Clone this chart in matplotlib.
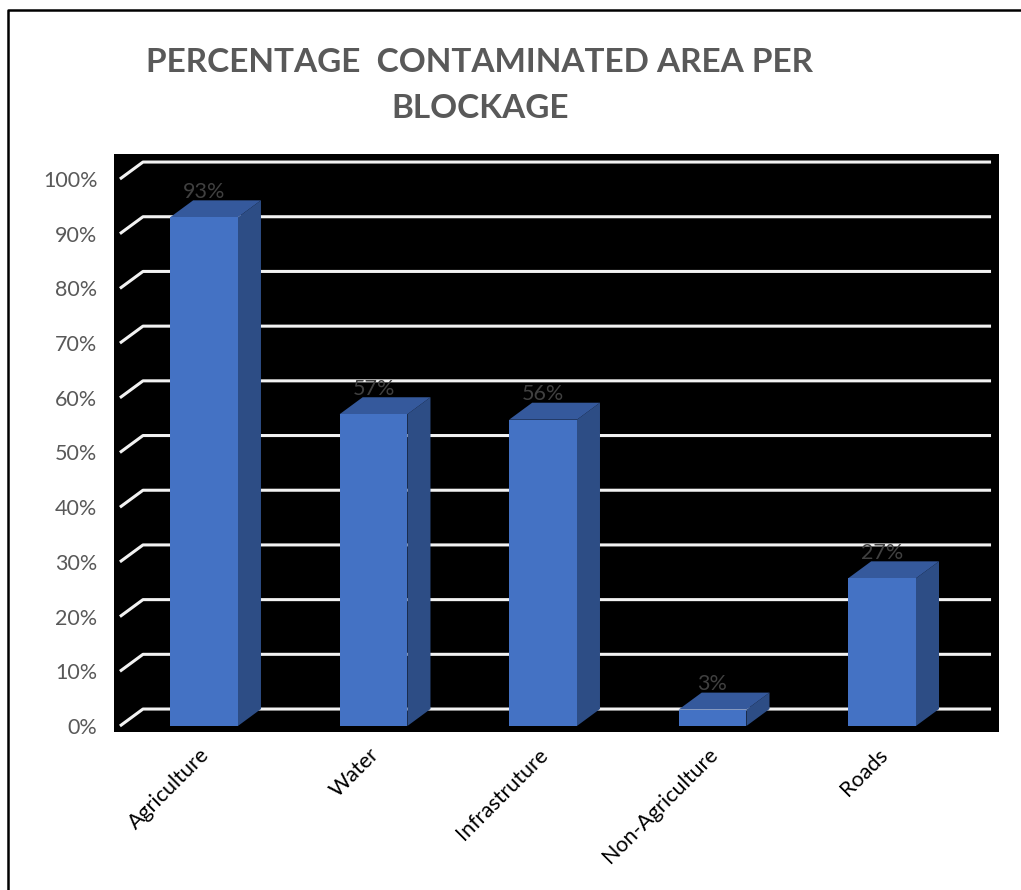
import matplotlib
matplotlib.use("Agg")
from matplotlib import pyplot as plt
from matplotlib import transforms
from matplotlib.patches import Polygon
from matplotlib.lines import Line2D

categories = ["Agriculture", "Water", "Infrastruture", "Non-Agriculture", "Roads"]
percent = [93, 57, 56, 3, 27]
tick_values = [0, 10, 20, 30, 40, 50, 60, 70, 80, 90, 100]
tick_labels = ["%d%%" % v for v in tick_values]

FRONT = "#4472C4"
SIDE = "#2D4D85"
TOP = "#35599C"
BAR_W = 0.40
DX, DY = 0.136, 3.1   # depth of the fake 3d boxes, in data units

plt.rcParams['font.family'] = ['Lato', 'DejaVu Sans']

fig = plt.figure(figsize=(10.21, 8.9), dpi=100)
ax = fig.add_axes([114 / 1021, 158 / 890, 885 / 1021, 578 / 890])
ax.set_facecolor("black")
ax.set_xlim(-0.531, 4.690)
ax.set_ylim(-1.1, 104.57)

# back wall gridlines with a slanted piece on the side wall
gx0, gx1 = -0.36, 4.643
for v in tick_values:
    ax.plot([gx0 - DX, gx0, gx1], [v, v + DY, v + DY], color="#F2F2F2", lw=2.2,
            solid_capstyle="butt", zorder=1)

xs = list(range(len(categories)))
ax.bar(xs, percent, width=BAR_W, color=FRONT, zorder=3)
for x, v in zip(xs, percent):
    l, r = x - BAR_W / 2, x + BAR_W / 2
    ax.add_patch(Polygon([(r, 0), (r + DX, DY), (r + DX, v + DY), (r, v)],
                         closed=True, facecolor=SIDE, edgecolor="none", zorder=2))
    ax.add_patch(Polygon([(l, v), (r, v), (r + DX, v + DY), (l + DX, v + DY)],
                         closed=True, facecolor=TOP, edgecolor="none", zorder=2))
    ax.text(x, v + DY - 0.3, "%d%%" % v, ha="center", va="bottom",
            color="#404040", fontsize=15.5, zorder=4)

ax.set_yticks(tick_values)
ax.set_yticklabels(tick_labels, color="#595959", fontsize=15.5)
ax.set_xticks(xs)
ax.set_xticklabels(categories, rotation=45, ha="right", va="top",
                   rotation_mode="anchor", fontsize=15.5, color="black")
ax.tick_params(axis="y", length=0, pad=12)
ax.tick_params(axis="x", length=0, pad=9)
shift = transforms.ScaledTranslation(-5 / 100, 0, fig.dpi_scale_trans)
for lbl in ax.get_xticklabels():
    lbl.set_transform(lbl.get_transform() + shift)
for s in ax.spines.values():
    s.set_visible(False)

fig.text(0.470, 1 - 63 / 890, "PERCENTAGE  CONTAMINATED AREA PER", ha="center",
         va="center", fontsize=24, fontweight="bold", color="#595959")
fig.text(0.470, 1 - 108 / 890, "BLOCKAGE", ha="center", va="center",
         fontsize=24, fontweight="bold", color="#595959")

# outer frame (left and top edge visible in the original crop)
fig.add_artist(Line2D([8 / 1021, 8 / 1021, 1.0], [0.0, 1 - 10 / 890, 1 - 10 / 890],
                      transform=fig.transFigure, color="black", lw=1.8))

fig.savefig("out.png", dpi=100, facecolor="white")
